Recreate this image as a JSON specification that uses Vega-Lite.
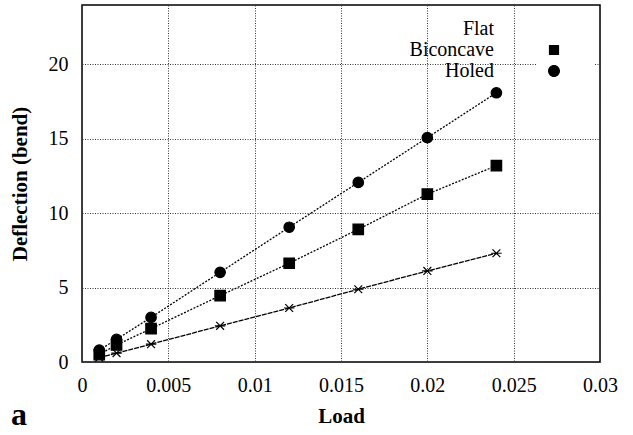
{
  "$schema": "https://vega.github.io/schema/vega-lite/v6.json",
  "width": 518,
  "height": 357,
  "autosize": "none",
  "padding": {"left": 82, "top": 5, "right": 33, "bottom": 73},
  "background": "white",
  "config": {
    "font": "Liberation Serif",
    "view": {"stroke": "black", "strokeWidth": 1.5},
    "axis": {
      "grid": true,
      "gridColor": "#333333",
      "gridDash": [1, 1.5],
      "gridWidth": 1,
      "domain": false,
      "ticks": false,
      "labelFont": "Liberation Serif",
      "labelFontSize": 20,
      "labelColor": "black",
      "titleFont": "Liberation Serif",
      "titleFontSize": 21,
      "titleFontWeight": "bold",
      "titleColor": "black"
    },
    "legend": {
      "title": null,
      "orient": "top-right",
      "offset": 6,
      "fillColor": "white",
      "padding": 8,
      "labelFont": "Liberation Serif",
      "labelFontSize": 20,
      "labelColor": "black",
      "labelAlign": "right",
      "labelOffset": -70,
      "labelLimit": 300,
      "symbolSize": 144,
      "symbolStrokeWidth": 1.2,
      "symbolStrokeColor": "black",
      "symbolFillColor": "black",
      "rowPadding": 1
    }
  },
  "title": {
    "text": "a",
    "orient": "bottom",
    "anchor": "start",
    "frame": "bounds",
    "font": "Liberation Serif",
    "fontSize": 32,
    "fontWeight": "bold",
    "color": "black",
    "baseline": "alphabetic",
    "offset": 0,
    "dx": 2,
    "dy": -1
  },
  "data": {
    "values": [
      {"load": 0.001, "series": "Flat", "deflection": 0.3},
      {"load": 0.002, "series": "Flat", "deflection": 0.6},
      {"load": 0.004, "series": "Flat", "deflection": 1.2},
      {"load": 0.008, "series": "Flat", "deflection": 2.43},
      {"load": 0.012, "series": "Flat", "deflection": 3.63},
      {"load": 0.016, "series": "Flat", "deflection": 4.89},
      {"load": 0.02, "series": "Flat", "deflection": 6.12},
      {"load": 0.024, "series": "Flat", "deflection": 7.31},
      {"load": 0.001, "series": "Biconcave", "deflection": 0.5},
      {"load": 0.002, "series": "Biconcave", "deflection": 1.15},
      {"load": 0.004, "series": "Biconcave", "deflection": 2.24},
      {"load": 0.008, "series": "Biconcave", "deflection": 4.46},
      {"load": 0.012, "series": "Biconcave", "deflection": 6.64},
      {"load": 0.016, "series": "Biconcave", "deflection": 8.92},
      {"load": 0.02, "series": "Biconcave", "deflection": 11.28},
      {"load": 0.024, "series": "Biconcave", "deflection": 13.2},
      {"load": 0.001, "series": "Holed", "deflection": 0.8},
      {"load": 0.002, "series": "Holed", "deflection": 1.52},
      {"load": 0.004, "series": "Holed", "deflection": 3.0},
      {"load": 0.008, "series": "Holed", "deflection": 6.03},
      {"load": 0.012, "series": "Holed", "deflection": 9.06},
      {"load": 0.016, "series": "Holed", "deflection": 12.07},
      {"load": 0.02, "series": "Holed", "deflection": 15.08},
      {"load": 0.024, "series": "Holed", "deflection": 18.1}
    ]
  },
  "encoding": {
    "x": {
      "field": "load",
      "type": "quantitative",
      "title": "Load",
      "scale": {"domain": [0, 0.03], "nice": false, "zero": false},
      "axis": {"values": [0, 0.005, 0.01, 0.015, 0.02, 0.025, 0.03], "format": "~g", "labelPadding": 13, "titlePadding": 10, "labelFlush": false}
    },
    "y": {
      "field": "deflection",
      "type": "quantitative",
      "title": "Deflection (bend)",
      "scale": {"domain": [0, 24], "nice": false},
      "axis": {"values": [0, 5, 10, 15, 20], "format": "~g", "labelPadding": 14, "titlePadding": 18}
    }
  },
  "layer": [
    {
      "transform": [{"filter": "datum.series === 'Flat'"}],
      "mark": {"type": "line", "color": "black", "strokeWidth": 1.3, "strokeDash": [5, 1]},
      "encoding": {"detail": {"field": "series", "type": "nominal"}}
    },
    {
      "transform": [{"filter": "datum.series !== 'Flat'"}],
      "mark": {"type": "line", "color": "black", "strokeWidth": 1.3, "strokeDash": [2, 1.5]},
      "encoding": {"detail": {"field": "series", "type": "nominal"}}
    },
    {
      "mark": {"type": "point", "filled": true, "fill": "black", "stroke": "black", "strokeWidth": 1.2, "opacity": 1, "size": 110},
      "encoding": {
        "shape": {
          "field": "series",
          "type": "nominal",
          "scale": {
            "domain": ["Flat", "Biconcave", "Holed"],
            "range": ["M-1,0H1M-0.75,-0.75L0.75,0.75M-0.75,0.75L0.75,-0.75", "square", "circle"]
          },
          "legend": null
        }
      }
    },
    {
      "transform": [{"filter": "false"}],
      "mark": {"type": "point", "filled": true, "fill": "black", "stroke": "black", "strokeWidth": 1.2, "strokeDash": [2, 1.5], "opacity": 1},
      "encoding": {
        "shape": {
          "field": "series",
          "type": "nominal",
          "scale": {
            "domain": ["Flat", "Biconcave", "Holed"],
            "range": [
              "M-4.8,0H4.8M-1,0H1M-0.75,-0.75L0.75,0.75M-0.75,0.75L0.75,-0.75",
              "M-4.8,0H4.8M-0.85,-0.85H0.85V0.85H-0.85Z",
              "M-4.8,0H4.8M1,0A1,1,0,1,1,-1,0A1,1,0,1,1,1,0Z"
            ]
          },
          "legend": {"title": null}
        }
      }
    }
  ],
  "resolve": {
    "scale": {"shape": "independent"},
    "legend": {"shape": "independent"}
  }
}
